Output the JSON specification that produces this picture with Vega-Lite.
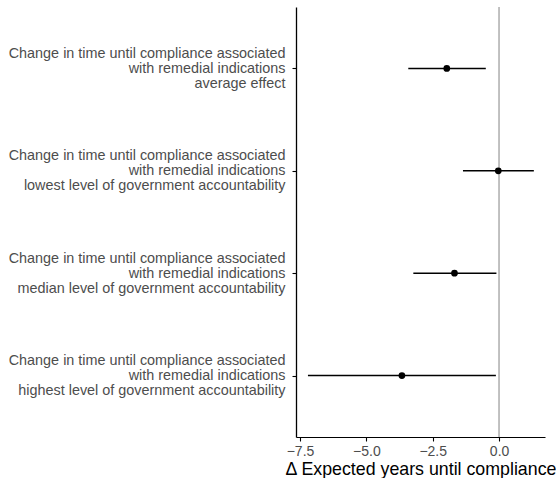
{
  "$schema": "https://vega.github.io/schema/vega-lite/v6.json",
  "width": 249,
  "height": 430,
  "autosize": {"type": "none"},
  "padding": {"left": 296, "top": 7, "right": 11, "bottom": 41},
  "background": "white",
  "config": {
    "view": {"stroke": null},
    "font": "Liberation Sans",
    "axis": {"grid": false, "domainColor": "black", "domainWidth": 1.1, "tickColor": "black", "tickWidth": 1.1, "tickSize": 4, "labelColor": "#4d4d4d", "labelFont": "Liberation Sans", "titleFont": "Liberation Sans", "titleFontWeight": "normal", "titleColor": "black"}
  },
  "data": {
    "values": [
      {"label": "Change in time until compliance associated|with remedial indications|average effect", "est": -1.97, "lo": -3.42, "hi": -0.5},
      {"label": "Change in time until compliance associated|with remedial indications|lowest level of government accountability", "est": -0.03, "lo": -1.36, "hi": 1.31},
      {"label": "Change in time until compliance associated|with remedial indications|median level of government accountability", "est": -1.68, "lo": -3.23, "hi": -0.1},
      {"label": "Change in time until compliance associated|with remedial indications|highest level of government accountability", "est": -3.66, "lo": -7.2, "hi": -0.12}
    ]
  },
  "layer": [
    {
      "mark": {"type": "rule", "color": "#bebebe", "strokeWidth": 1.1},
      "encoding": {"x": {"datum": 0, "type": "quantitative"}}
    },
    {
      "mark": {"type": "rule", "color": "black", "strokeWidth": 1.6},
      "encoding": {
        "y": {"field": "label", "type": "nominal", "sort": null},
        "x": {"field": "lo", "type": "quantitative"},
        "x2": {"field": "hi"}
      }
    },
    {
      "mark": {"type": "point", "filled": true, "color": "black", "opacity": 1, "size": 45},
      "encoding": {
        "y": {
          "field": "label", "type": "nominal", "sort": null,
          "scale": {"type": "point", "padding": 0.6},
          "axis": {"title": null, "labelExpr": "split(datum.label, '|')", "labelFontSize": 14.4, "labelLineHeight": 15, "labelOffset": -15, "labelPadding": 7, "labelLimit": 400, "domainWidth": 1.3}
        },
        "x": {
          "field": "est", "type": "quantitative",
          "scale": {"domain": [-7.65, 1.73], "nice": false, "zero": false},
          "axis": {"title": "Δ Expected years until compliance", "values": [-7.5, -5, -2.5, 0], "format": ".1f", "labelFontSize": 14, "labelPadding": 3, "titleFontSize": 17.8, "titlePadding": 2}
        }
      }
    }
  ]
}
